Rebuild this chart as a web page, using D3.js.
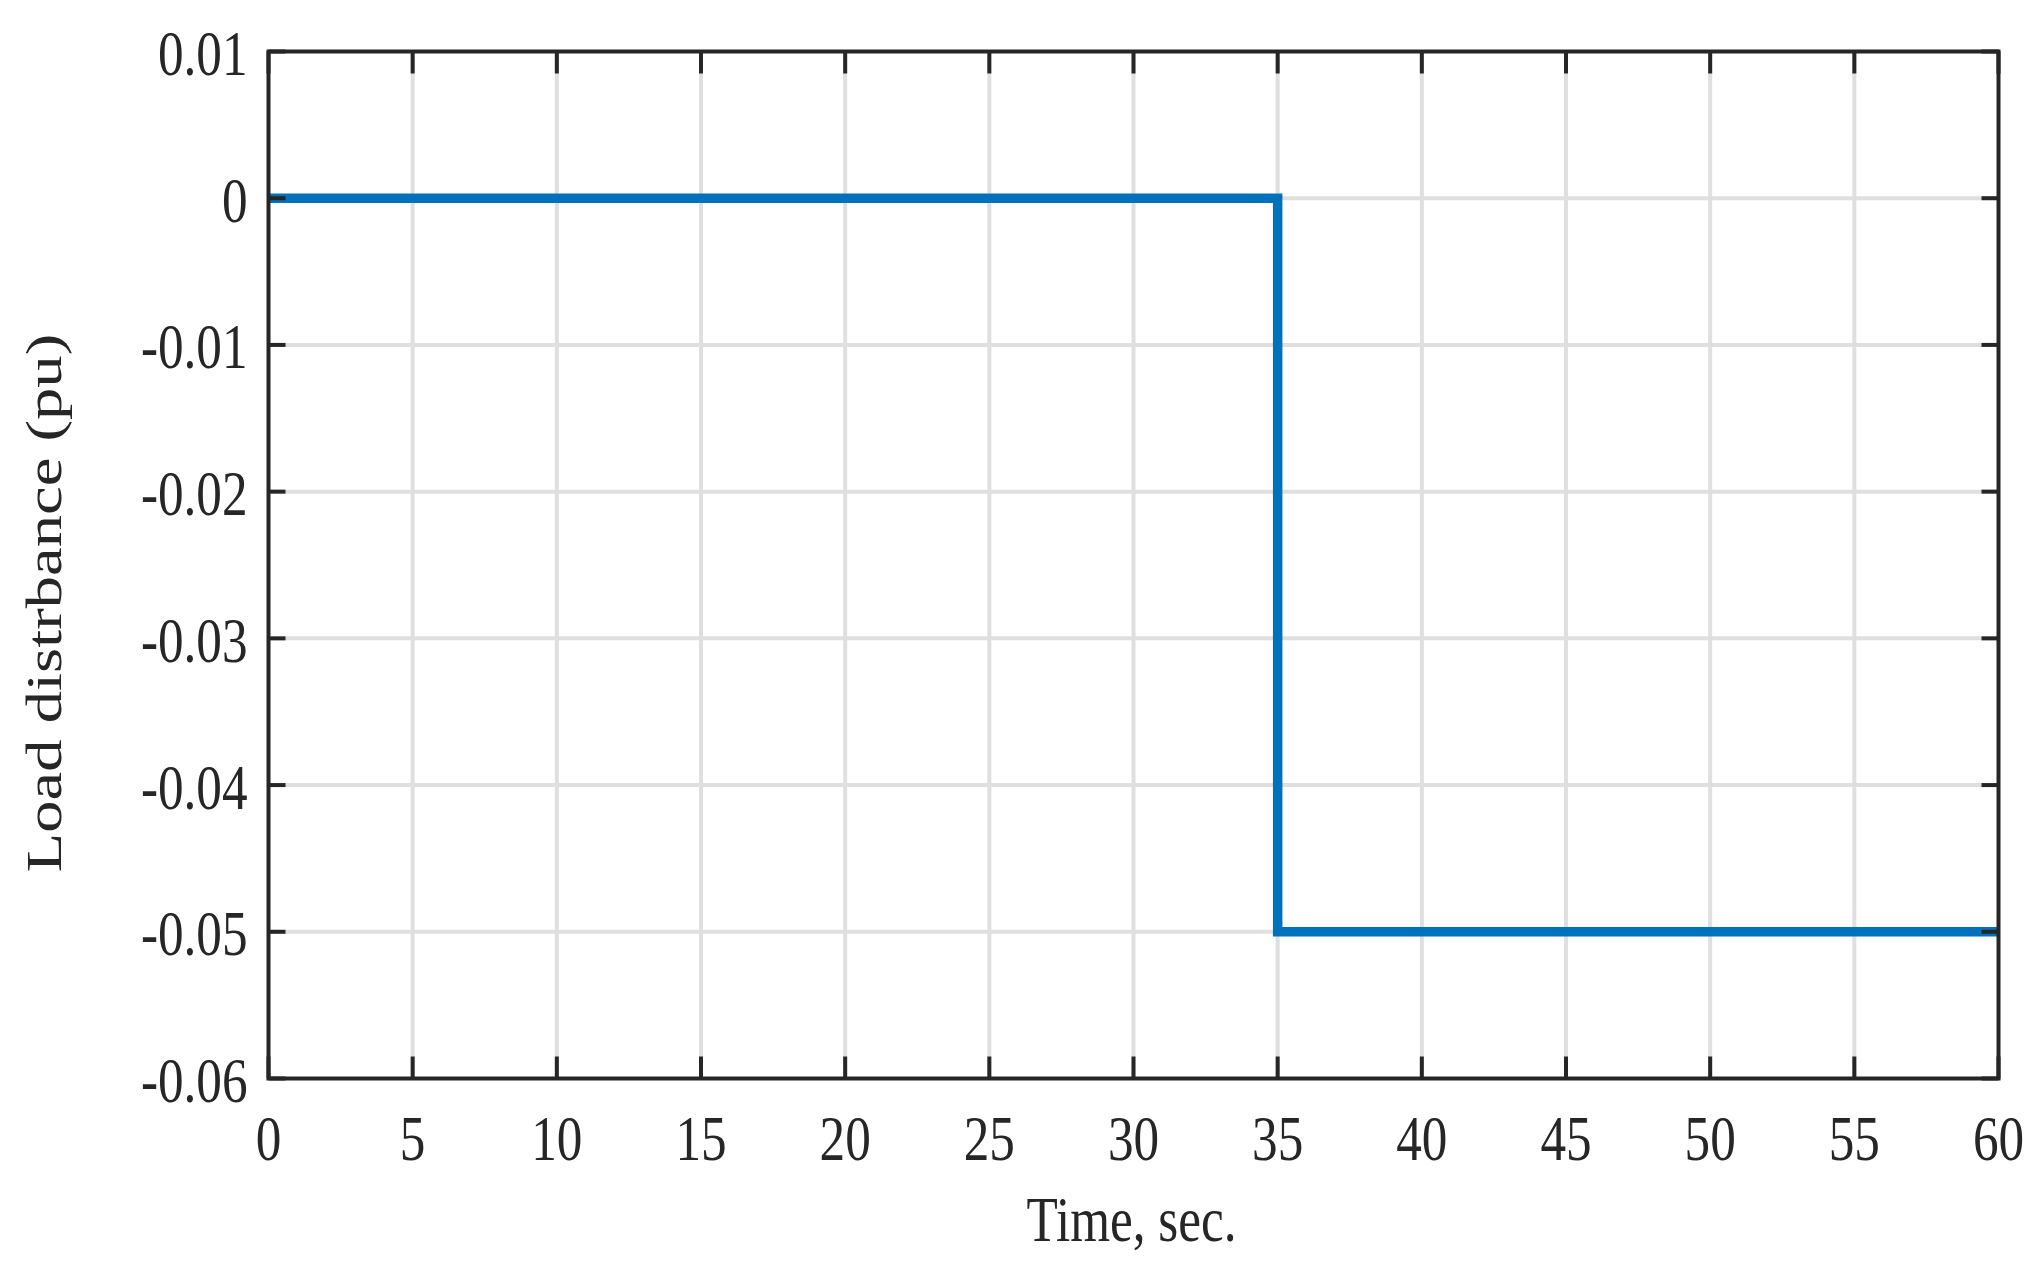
<!DOCTYPE html>
<html>
<head>
<meta charset="utf-8">
<script src="https://cdn.jsdelivr.net/npm/d3@7"></script>
<style>
  html, body { margin: 0; padding: 0; background: #fff; }
  svg { display: block; }
  text { font-family: "Liberation Serif", "Times New Roman", serif; fill: #262626; }
</style>
</head>
<body>
<script>
// ---- data ----
const timeValues = [0, 35, 35, 60];
const loadValues = [0, 0, -0.05, -0.05];
const xTicks = [0, 5, 10, 15, 20, 25, 30, 35, 40, 45, 50, 55, 60];
const yTicks = [0.01, 0, -0.01, -0.02, -0.03, -0.04, -0.05, -0.06];
const yTickLabels = ["0.01", "0", "-0.01", "-0.02", "-0.03", "-0.04", "-0.05", "-0.06"];
const xLabel = "Time, sec.";
const yLabel = "Load distrbance (pu)";

// ---- layout ----
const W = 2043, H = 1269;
const L = 268.5, R = 1998.5, T = 51.5, B = 1078.5;
const axisColor = "#262626", gridColor = "#dfdfdf", lineColor = "#0072BD";
const fs = 64, sx = 0.8;

const svg = d3.select("body").append("svg").attr("width", W).attr("height", H);

const x = d3.scaleLinear().domain([0, 60]).range([L, R]);
const y = d3.scaleLinear().domain([-0.06, 0.01]).range([B, T]);

// grid
const grid = svg.append("g");
grid.selectAll("line.gx").data(xTicks.slice(1, -1)).join("line")
  .attr("x1", d => x(d)).attr("x2", d => x(d)).attr("y1", T).attr("y2", B)
  .attr("stroke", gridColor).attr("stroke-width", 4);
grid.selectAll("line.gy").data(yTicks.slice(1, -1)).join("line")
  .attr("x1", L).attr("x2", R).attr("y1", d => y(d)).attr("y2", d => y(d))
  .attr("stroke", gridColor).attr("stroke-width", 4);

// data line
const pts = timeValues.map((t, i) => [t, loadValues[i]]);
svg.append("path")
  .attr("d", d3.line().x(d => x(d[0])).y(d => y(d[1]))(pts))
  .attr("fill", "none").attr("stroke", lineColor).attr("stroke-width", 9.5)
  .attr("stroke-linejoin", "miter");

// ticks (inward, both sides)
const ticks = svg.append("g").attr("stroke", axisColor).attr("stroke-width", 4);
xTicks.forEach(d => {
  ticks.append("line").attr("x1", x(d)).attr("x2", x(d)).attr("y1", B).attr("y2", B - 22);
  ticks.append("line").attr("x1", x(d)).attr("x2", x(d)).attr("y1", T).attr("y2", T + 22);
});
yTicks.forEach(d => {
  ticks.append("line").attr("x1", L).attr("x2", L + 17).attr("y1", y(d)).attr("y2", y(d));
  ticks.append("line").attr("x1", R).attr("x2", R - 17).attr("y1", y(d)).attr("y2", y(d));
});

// box
svg.append("rect").attr("x", L).attr("y", T).attr("width", R - L).attr("height", B - T)
  .attr("fill", "none").attr("stroke", axisColor).attr("stroke-width", 4);

// x tick labels
svg.append("g").selectAll("g").data(xTicks).join("g")
  .attr("transform", d => `translate(${x(d)},${B + 81.5})`)
  .append("text").attr("transform", `scale(${sx},1)`)
  .attr("text-anchor", "middle").attr("font-size", fs).text(d => String(d));

// y tick labels
svg.append("g").selectAll("g").data(yTicks).join("g")
  .attr("transform", d => `translate(${L - 21},${y(d) + 23.5})`)
  .append("text").attr("transform", `scale(${sx},1)`)
  .attr("text-anchor", "end").attr("font-size", fs).text((d, i) => yTickLabels[i]);

// axis labels
svg.append("g").attr("transform", `translate(${(L + R) / 2 - 2},1241)`)
  .append("text").attr("transform", `scale(${sx},1)`)
  .attr("text-anchor", "middle").attr("font-size", fs).text(xLabel);

// rotated label: image stretched vertically, so text is stretched along its length
svg.append("g").attr("transform", `translate(61,603) rotate(-90)`)
  .append("text").attr("transform", `scale(1.01,${sx})`)
  .attr("text-anchor", "middle").attr("font-size", fs).text(yLabel);
</script>
</body>
</html>
